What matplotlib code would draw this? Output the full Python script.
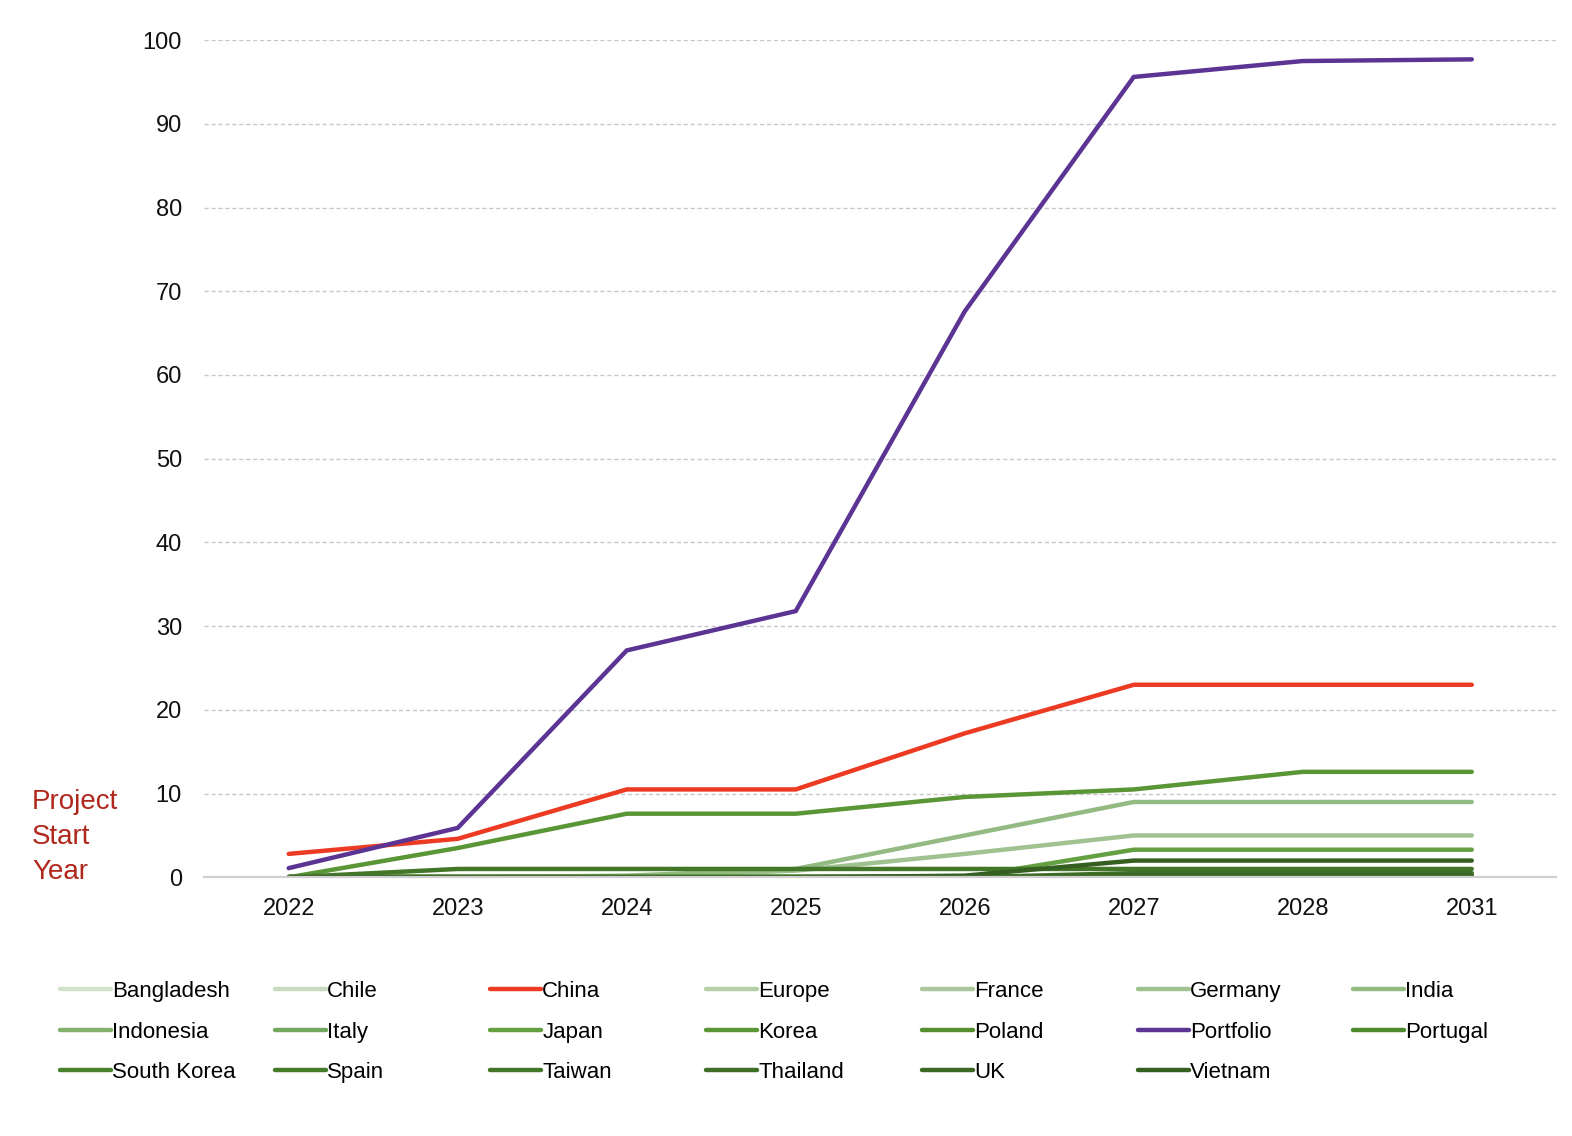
import matplotlib
matplotlib.use("Agg")
import matplotlib.pyplot as plt

# ---------- data ----------
years = ["2022", "2023", "2024", "2025", "2026", "2027", "2028", "2031"]

series_names = ["Bangladesh", "Chile", "China", "Europe", "France", "Germany", "India",
                "Indonesia", "Italy", "Japan", "Korea", "Poland", "Portfolio", "Portugal",
                "South Korea", "Spain", "Taiwan", "Thailand", "UK", "Vietnam"]

bangladesh  = [0, 0, 0, 0, 0, 0, 0, 0]
chile       = [0, 0, 0, 0, 0, 0, 0, 0]
china       = [2.8, 4.6, 10.5, 10.5, 17.2, 23.0, 23.0, 23.0]
europe      = [0, 0, 0, 0, 0, 0, 0, 0]
france      = [0, 0, 0, 0, 0, 0, 0, 0]
germany     = [0, 0, 0, 0.8, 2.8, 5.0, 5.0, 5.0]
india       = [0, 0, 0.2, 1.0, 5.0, 9.0, 9.0, 9.0]
indonesia   = [0, 0, 0, 0, 0, 0, 0, 0]
italy       = [0, 0, 0, 0, 0, 0, 0, 0]
japan       = [0, 0, 0, 0, 0, 3.3, 3.3, 3.3]
korea       = [0, 3.5, 7.6, 7.6, 9.6, 10.5, 12.6, 12.6]
poland      = [0, 0, 0, 0, 0, 0, 0, 0]
portfolio   = [1.1, 5.9, 27.1, 31.8, 67.6, 95.6, 97.5, 97.7]
portugal    = [0, 0, 0, 0, 0, 0, 0, 0]
south_korea = [0, 0, 0, 0, 0, 0, 0, 0]
spain       = [0, 0, 0, 0, 0, 0, 0, 0]
taiwan      = [0, 1.0, 1.0, 1.0, 1.0, 1.0, 1.0, 1.0]
thailand    = [0, 0, 0, 0, 0, 0.5, 0.5, 0.5]
uk          = [0, 0, 0, 0, 0, 0.25, 0.25, 0.25]
vietnam     = [0, 0, 0, 0, 0.2, 2.0, 2.0, 2.0]

series_values = [bangladesh, chile, china, europe, france, germany, india,
                 indonesia, italy, japan, korea, poland, portfolio, portugal,
                 south_korea, spain, taiwan, thailand, uk, vietnam]

colors = ["#d3e2cb", "#c8dbbf", "#ec3a23", "#b5cfa7", "#aac89b", "#a0c190", "#93ba82",
          "#82b06d", "#74a85e", "#64a042", "#5a9636", "#558f30", "#5c3494", "#4f892d",
          "#4a822b", "#467c29", "#437628", "#3f6f26", "#3b6824", "#355f21"]

yticks = list(range(0, 101, 10))

# ---------- figure ----------
fig = plt.figure(figsize=(15.72, 11.36), dpi=100)
ax = fig.add_axes([0.1299, 0.2277, 0.8601, 0.737])

lines = []
for name, vals, col in zip(series_names, series_values, colors):
    ln, = ax.plot(years, vals, color=col, lw=3.2, solid_capstyle="round",
                  solid_joinstyle="miter", label=name)
    lines.append(ln)

ax.set_xlim(-0.5, 7.5)
ax.set_ylim(0, 100)
ax.set_yticks(yticks)
ax.yaxis.grid(True, color="#c8c8c8", linestyle=(0, (3, 2)), lw=1.0)
ax.set_axisbelow(True)
for s in ["top", "right", "left"]:
    ax.spines[s].set_visible(False)
ax.spines["bottom"].set_color("#d0d0d0")
ax.spines["bottom"].set_linewidth(1.6)
ax.tick_params(axis="both", length=0, labelsize=17, colors="#111111")
ax.tick_params(axis="y", pad=16)
ax.tick_params(axis="x", pad=15)
for lab in ax.get_xticklabels() + ax.get_yticklabels():
    lab.set_family("Liberation Sans")

fig.text(32 / 1572, 1 - 789 / 1136, "Project\nStart\nYear", color="#b0271b",
         fontsize=20, family="Liberation Sans", ha="left", va="top", linespacing=1.45)

# legend: 7 fixed-width columns, filled row-wise
col_x = [60, 275, 490, 706, 922, 1138, 1353]
for j, x in enumerate(col_x):
    idx = list(range(j, len(lines), 7))
    fig.legend([lines[i] for i in idx], [series_names[i] for i in idx],
               loc="upper left", bbox_to_anchor=(x / 1572, 1 - 981 / 1136),
               frameon=False, borderpad=0, borderaxespad=0,
               handlelength=2.3, handletextpad=0.05, labelspacing=0.88,
               prop={"family": "Liberation Sans", "size": 16})

fig.savefig("out.png", dpi=100)
